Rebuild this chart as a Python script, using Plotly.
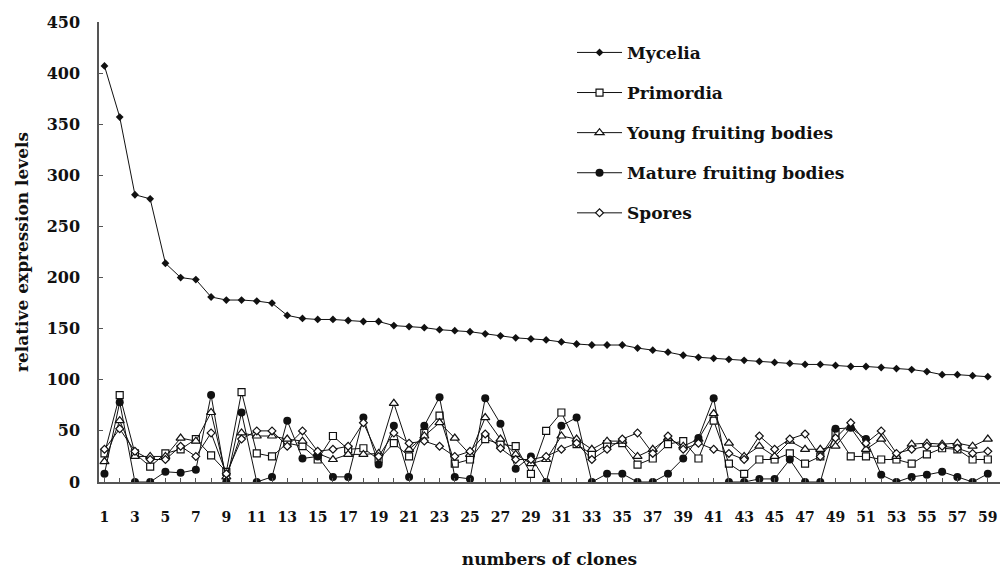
import plotly.graph_objects as go

# Clone numbers on the x axis
clones = list(range(1, 60))

# Relative expression levels per developmental stage
mycelia = [407, 357, 281, 277, 214, 200, 198, 181, 178, 178, 177, 175, 163, 160, 159,
           159, 158, 157, 157, 153, 152, 151, 149, 148, 147, 145, 143, 141, 140, 139,
           137, 135, 134, 134, 134, 131, 129, 127, 124, 122, 121, 120, 119, 118, 117,
           116, 115, 115, 114, 113, 113, 112, 111, 110, 108, 105, 105, 104, 103]
primordia = [28, 85, 28, 15, 28, 32, 42, 26, 10, 88, 28, 25, 38, 35, 22,
             45, 32, 33, 22, 38, 25, 48, 65, 18, 22, 42, 37, 35, 8, 50,
             68, 37, 27, 37, 38, 17, 23, 37, 40, 23, 60, 18, 8, 22, 22,
             28, 18, 25, 48, 25, 25, 22, 22, 18, 27, 33, 32, 22, 22]
young = [20, 60, 25, 25, 25, 43, 40, 68, 5, 48, 45, 45, 42, 40, 28,
         22, 27, 27, 28, 77, 32, 45, 58, 43, 27, 63, 42, 27, 18, 22,
         45, 42, 32, 40, 40, 25, 32, 43, 35, 42, 67, 38, 25, 35, 25,
         40, 32, 32, 35, 53, 32, 42, 25, 37, 38, 37, 38, 35, 42]
mature = [8, 78, 0, 0, 10, 9, 12, 85, 0, 68, 0, 5, 60, 23, 25,
          5, 5, 63, 17, 55, 5, 55, 83, 5, 3, 82, 57, 13, 25, 0,
          55, 63, 0, 8, 8, 0, 0, 8, 23, 43, 82, 0, 0, 3, 3,
          22, 0, 0, 52, 53, 42, 7, 0, 5, 7, 10, 5, 0, 8]
spores = [32, 52, 30, 22, 22, 35, 25, 48, 8, 42, 50, 50, 35, 50, 30,
          32, 35, 58, 25, 48, 38, 40, 35, 25, 30, 47, 33, 22, 22, 25,
          32, 38, 22, 32, 42, 48, 28, 45, 32, 38, 32, 28, 22, 45, 32,
          42, 47, 25, 43, 58, 38, 50, 28, 32, 35, 35, 33, 28, 30]

tick_text = [str(c) if c % 2 else "" for c in clones]

FONT = "DejaVu Serif"
ink = "#111111"

series = [
    ("Mycelia", mycelia, dict(symbol="diamond", size=6, color=ink)),
    ("Primordia", primordia, dict(symbol="square", size=7, color="white",
                                  line=dict(color=ink, width=1.2))),
    ("Young fruiting bodies", young, dict(symbol="triangle-up", size=8, color="white",
                                          line=dict(color=ink, width=1.2))),
    ("Mature fruiting bodies", mature, dict(symbol="circle", size=8, color=ink)),
    ("Spores", spores, dict(symbol="diamond", size=6, color="white",
                            line=dict(color=ink, width=1.2))),
]

fig = go.Figure()
for i, (name, vals, marker) in enumerate(series):
    fig.add_trace(go.Scatter(
        x=clones, y=vals, name=name, mode="lines+markers",
        line=dict(color=ink, width=1), marker=marker,
        legendgroup=f"g{i}",
    ))

axis_color = "#555555"
fig.update_layout(
    width=1004, height=576,
    margin=dict(l=99, r=4, t=22, b=94),
    paper_bgcolor="white", plot_bgcolor="white",
    font=dict(family=FONT, color=ink, weight="bold"),
    showlegend=True,
    legend=dict(
        x=0.525, y=0.972, xanchor="left", yanchor="top",
        font=dict(family=FONT, size=17, color=ink, weight="bold"),
        tracegroupgap=15, itemwidth=45, bgcolor="rgba(0,0,0,0)",
    ),
    xaxis=dict(
        range=[0.64, 59.8], tickmode="array", tickvals=clones, ticktext=tick_text,
        ticks="inside", ticklen=4, tickcolor=axis_color, tickwidth=1,
        showline=True, linecolor=axis_color, linewidth=1.5,
        showgrid=False, zeroline=False,
        tickfont=dict(family=FONT, size=14, color=ink, weight="bold"),
        ticklabelstandoff=21,
        title=dict(text="numbers of clones", standoff=30,
                   font=dict(family=FONT, size=17, color=ink, weight="bold")),
    ),
    yaxis=dict(
        range=[0, 450], tickvals=[0, 50, 100, 150, 200, 250, 300, 350, 400, 450],
        ticks="inside", ticklen=4, tickcolor=axis_color, tickwidth=1,
        showline=True, linecolor=axis_color, linewidth=1.5,
        showgrid=False, zeroline=False,
        tickfont=dict(family=FONT, size=16, color=ink, weight="bold"),
        ticklabelstandoff=14,
        title=dict(text="relative expression levels", standoff=14,
                   font=dict(family=FONT, size=17, color=ink, weight="bold")),
    ),
)

fig.write_html("out.html")
